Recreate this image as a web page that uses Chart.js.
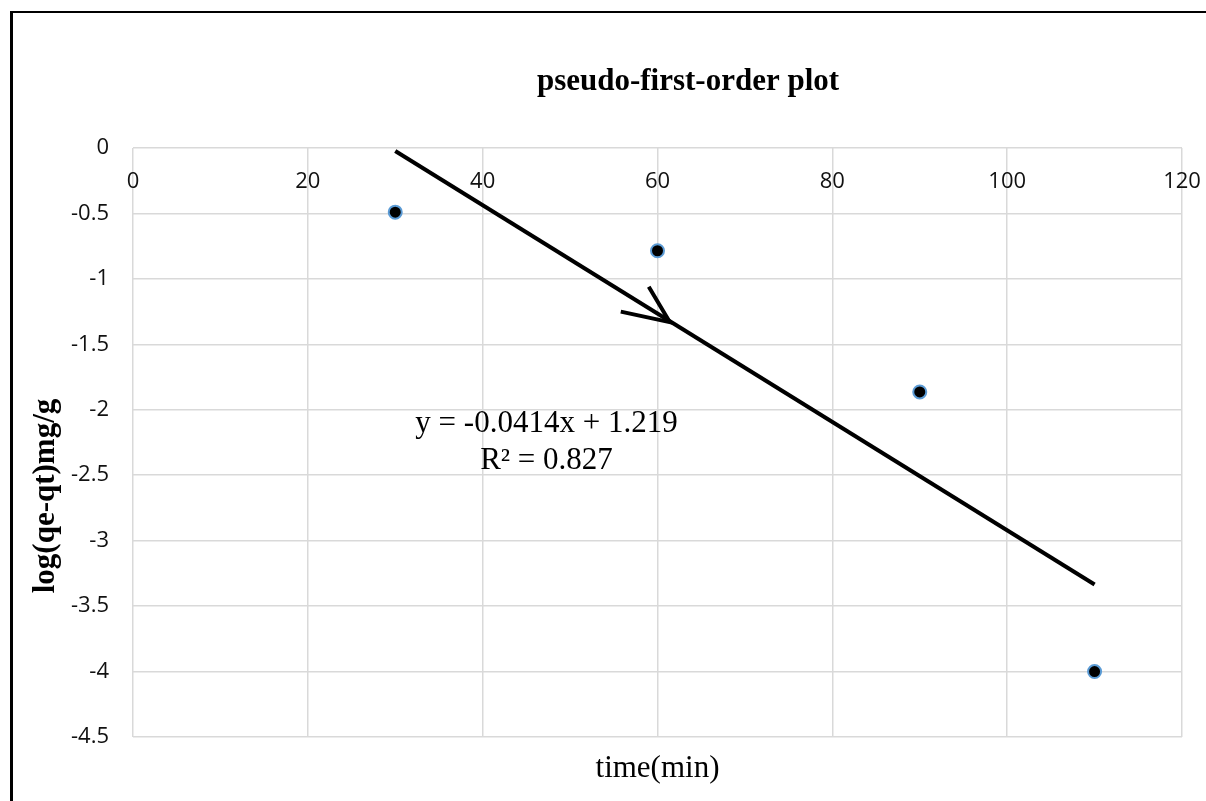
<!DOCTYPE html>
<html>
<head>
<meta charset="utf-8">
<script src="https://cdn.jsdelivr.net/npm/chart.js@4.4.1/dist/chart.umd.min.js"></script>
<style>
  html, body { margin: 0; padding: 0; background: #fff; overflow: hidden; }
  #wrap { position: relative; width: 1206px; height: 801px; }
  #frame {
    position: absolute; left: 10px; top: 11px; width: 1300px; height: 900px;
    border-left: 3px solid #000; border-top: 2px solid #000; pointer-events: none;
  }
</style>
</head>
<body>
<div id="wrap">
  <canvas id="kinetics" width="1206" height="801"></canvas>
  <div id="frame"></div>
</div>
<script>
// measured points: time (min) vs log(qe-qt)
const timeMin = [30, 60, 90, 110]
const logQeQt = [-0.49, -0.785, -1.864, -4.0]

// linear trendline as reported on the chart
const fitSlope = -0.0414
const fitIntercept = 1.219
const fitRSquared = 0.827
const fitFrom = 30
const fitTo = 110

// hand-drawn arrow pointing at the trendline (tail, tip, tail)
const arrowX = [55.8, 61.4, 59.0]
const arrowY = [-1.25, -1.33, -1.06]

const xTickStep = 20
const yTickStep = 0.5

const points = timeMin.map((t, i) => ({ x: t, y: logQeQt[i] }))
const fitLine = [fitFrom, fitTo].map(t => ({ x: t, y: fitSlope * t + fitIntercept }))
const arrow = arrowX.map((x, i) => ({ x: x, y: arrowY[i] }))

const serif = "'Liberation Serif', 'Times New Roman', serif"
const tickFont = { family: "'Open Sans', sans-serif", size: 22 }

const textLayer = {
    id: 'textLayer',
    afterDraw(chart) {
        const ctx = chart.ctx
        const xs = chart.scales.x
        const ys = chart.scales.y
        ctx.save()
        ctx.fillStyle = '#000'
        ctx.textAlign = 'center'
        ctx.textBaseline = 'alphabetic'

        ctx.font = 'bold 31px ' + serif
        ctx.fillText('pseudo-first-order plot', 688, 90)

        ctx.font = '31px ' + serif
        ctx.fillText('time(min)', (chart.chartArea.left + chart.chartArea.right) / 2, 777)

        // trendline equation
        const ex = xs.getPixelForValue(47.3)
        const ey = ys.getPixelForValue(-2.17)
        ctx.fillText('y = ' + fitSlope + 'x + ' + fitIntercept, ex, ey)
        ctx.fillText('R\u00b2 = ' + fitRSquared, ex, ey + 37)

        ctx.translate(46, 496)
        ctx.rotate(-Math.PI / 2)
        ctx.textBaseline = 'middle'
        ctx.font = 'bold 31px ' + serif
        ctx.fillText('log(qe-qt)mg/g', 0, 0)
        ctx.restore()
    }
}

new Chart(document.getElementById('kinetics'), {
    type: 'scatter',
    data: {
        datasets: [
            {
                data: points,
                pointRadius: 6.5,
                pointBorderWidth: 2,
                pointBorderColor: '#5b9bd5',
                pointBackgroundColor: '#000'
            },
            {
                data: fitLine,
                showLine: true,
                borderColor: '#000',
                borderWidth: 4,
                pointRadius: 0
            },
            {
                data: arrow,
                showLine: true,
                borderColor: '#000',
                borderWidth: 4,
                borderCapStyle: 'butt',
                borderJoinStyle: 'miter',
                pointRadius: 0
            }
        ]
    },
    options: {
        responsive: false,
        animation: false,
        layout: { padding: { left: 0, top: 148, right: 24, bottom: 64 } },
        plugins: {
            legend: { display: false },
            tooltip: { enabled: false },
            title: { display: false }
        },
        scales: {
            x: {
                type: 'linear',
                position: { y: 0 },
                min: 0,
                max: 120,
                afterFit: s => { s.paddingLeft = 0; s.paddingRight = 0 },
                ticks: { stepSize: xTickStep, padding: 21, color: '#111', font: tickFont, maxRotation: 0 },
                grid: { color: '#d9d9d9', lineWidth: 1.5, drawTicks: false },
                border: { display: false }
            },
            y: {
                type: 'linear',
                position: 'left',
                min: -4.5,
                max: 0,
                afterFit: s => { s.width = 133; s.paddingTop = 0; s.paddingBottom = 0 },
                ticks: { stepSize: yTickStep, padding: 24, color: '#111', font: tickFont, callback: v => String(v) },
                grid: { color: '#d9d9d9', lineWidth: 1.5, drawTicks: false },
                border: { display: false }
            }
        }
    },
    plugins: [textLayer]
})
</script>
</body>
</html>
